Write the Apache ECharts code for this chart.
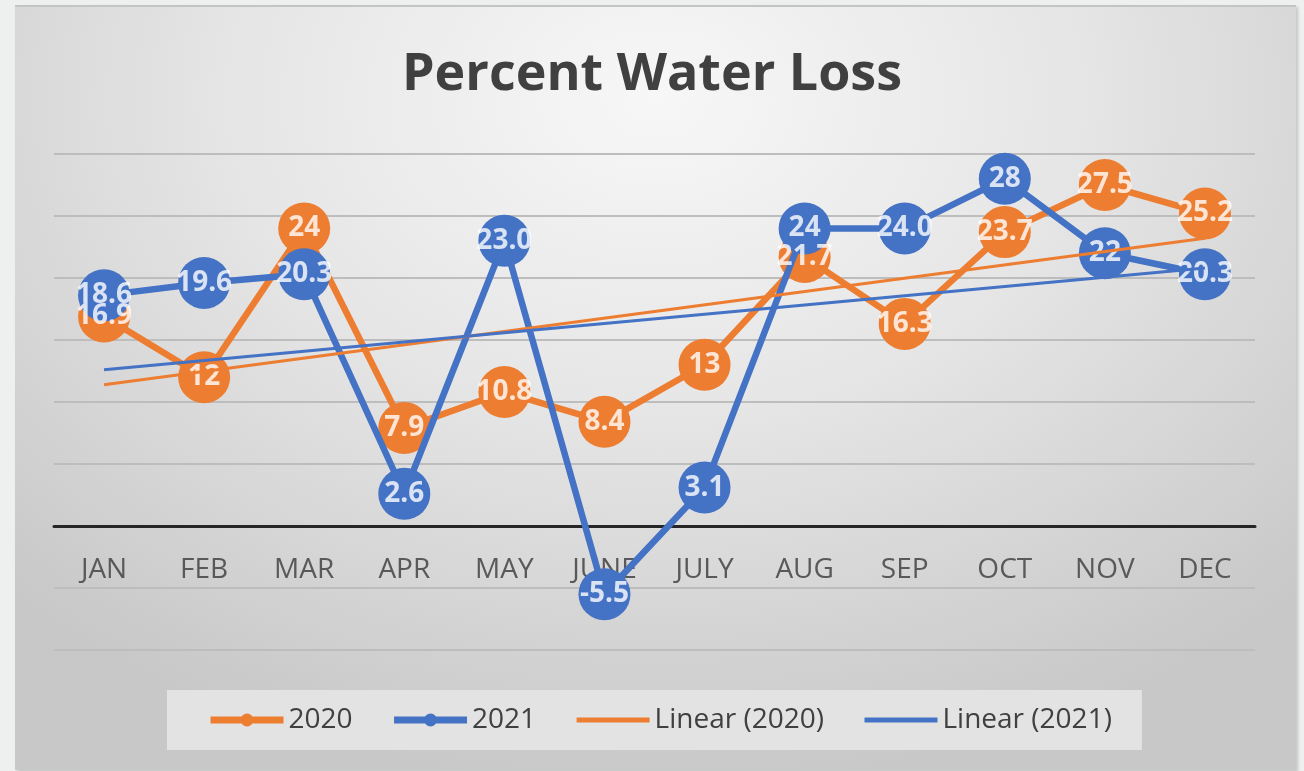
<!DOCTYPE html>
<html>
<head>
<meta charset="utf-8">
<script src="https://cdn.jsdelivr.net/npm/echarts@6/dist/echarts.min.js"></script>
<style>
  html, body { margin: 0; padding: 0; width: 1304px; height: 771px; overflow: hidden; background: #eef0f0; }
  #panel { position: absolute; left: 15px; top: 5px; width: 1281px; height: 763px;
    background: radial-gradient(ellipse 72% 90% at 50% 12%, #f7f7f7 0%, #e6e6e6 45%, #c8c8c8 100%);
    border-top: 2px solid #c4c4c4; box-shadow: 2px 2px 3px rgba(0,0,0,0.18); }
  #chart { position: absolute; left: 0; top: 0; width: 1304px; height: 771px; }
</style>
</head>
<body>
<div id="panel"></div>
<div id="chart"></div>
<script>
const months = ['JAN','FEB','MAR','APR','MAY','JUNE','JULY','AUG','SEP','OCT','NOV','DEC'];
const loss2020 = [16.9, 12, 24, 7.9, 10.8, 8.4, 13, 21.7, 16.3, 23.7, 27.5, 25.2];
const labels2020 = ['16.9','12','24','7.9','10.8','8.4','13','21.7','16.3','23.7','27.5','25.2'];
const loss2021 = [18.6, 19.6, 20.3, 2.6, 23.0, -5.5, 3.1, 24, 24.0, 28, 22, 20.3];
const labels2021 = ['18.6','19.6','20.3','2.6','23.0','-5.5','3.1','24','24.0','28','22','20.3'];
// trend line endpoint values (JAN, DEC)
const trend2020 = [11.4, 23.2];
const trend2021 = [12.6, 20.8];
const yTicks = [-10, -5, 0, 5, 10, 15, 20, 25, 30];

const ORANGE = '#ED7D31';
const BLUE = '#4472C4';
const FONT = 'Open Sans';

function labelSeries(vals, labs, z) {
  return {
    type: 'scatter', name: '_lbl' + z, z: z, silent: true,
    symbolSize: 2, itemStyle: { color: 'rgba(0,0,0,0)' },
    data: vals.map((v, i) => [months[i], v]),
    label: {
      show: true, position: 'inside',
      formatter: p => labs[p.dataIndex],
      color: '#ffffff', fontFamily: FONT, fontWeight: 'bold', fontSize: 28,
      textBorderWidth: 0, textShadowBlur: 0
    },
    labelLayout: { hideOverlap: false },
    tooltip: { show: false }
  };
}

const chart = echarts.init(document.getElementById('chart'), null, { renderer: 'canvas' });
chart.setOption({
  backgroundColor: 'transparent',
  animation: false,
  title: {
    text: 'Percent Water Loss', left: 'center', top: 44,
    textStyle: { fontFamily: FONT, fontWeight: 'bold', fontSize: 52, color: '#404040' }
  },
  grid: { left: 54, right: 49, top: 154, bottom: 121 },
  legend: {
    data: [
      { name: '2020', lineStyle: { width: 7 } },
      { name: '2021', lineStyle: { width: 7 } },
      { name: 'Linear (2020)', itemStyle: { opacity: 0 }, lineStyle: { width: 5 } },
      { name: 'Linear (2021)', itemStyle: { opacity: 0 }, lineStyle: { width: 5 } }
    ],
    left: 167, top: 690,
    backgroundColor: '#e3e3e3',
    padding: [16, 30, 16, 40],
    itemWidth: 73, itemHeight: 16, itemGap: 38,
    textStyle: { fontFamily: FONT, fontSize: 28, color: '#404040' }
  },
  xAxis: {
    type: 'category', data: months, boundaryGap: true,
    offset: -124,
    axisLine: { onZero: false, lineStyle: { color: '#262626', width: 3 } },
    axisTick: { show: false },
    axisLabel: { margin: 30, fontFamily: FONT, fontSize: 28, color: '#595959' },
    splitLine: { show: false }
  },
  yAxis: {
    type: 'value', min: yTicks[0], max: yTicks[yTicks.length - 1], interval: 5,
    axisLine: { show: false }, axisTick: { show: false }, axisLabel: { show: false },
    splitLine: { lineStyle: { color: '#bdbdbd', width: 2 } }
  },
  series: [
    {
      name: '2020', type: 'line', z: 2, data: loss2020,
      symbol: 'circle', symbolSize: 52,
      lineStyle: { color: ORANGE, width: 6.5 }, itemStyle: { color: ORANGE }
    },
    {
      name: '2021', type: 'line', z: 3, data: loss2021,
      symbol: 'circle', symbolSize: 52,
      lineStyle: { color: BLUE, width: 6.5 }, itemStyle: { color: BLUE }
    },
    labelSeries(loss2020, labels2020, 4),
    labelSeries(loss2021, labels2021, 5),
    {
      name: 'Linear (2020)', type: 'line', z: 6, showSymbol: false, symbol: 'none',
      data: [[months[0], trend2020[0]], [months[months.length - 1], trend2020[1]]],
      lineStyle: { color: ORANGE, width: 3 }, itemStyle: { color: ORANGE }
    },
    {
      name: 'Linear (2021)', type: 'line', z: 7, showSymbol: false, symbol: 'none',
      data: [[months[0], trend2021[0]], [months[months.length - 1], trend2021[1]]],
      lineStyle: { color: BLUE, width: 3 }, itemStyle: { color: BLUE }
    }
  ]
});
</script>
</body>
</html>
